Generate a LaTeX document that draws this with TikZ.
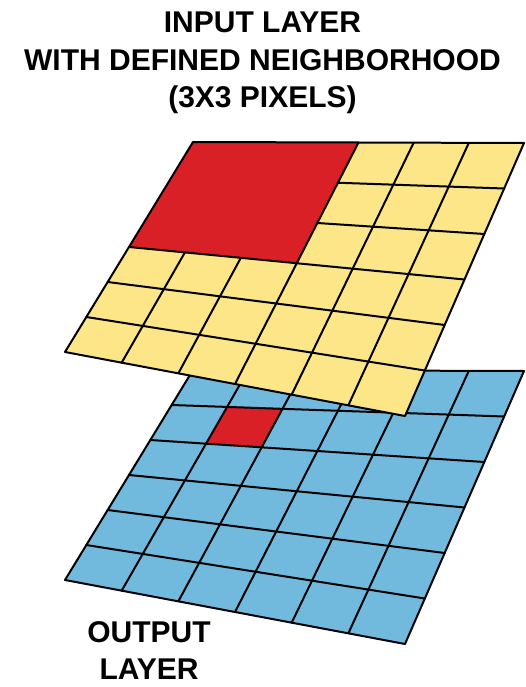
\documentclass[tikz,border=0pt]{standalone}
\usepackage{fontspec}
\setmainfont{Liberation Sans}
\usepackage{tikz}

\definecolor{cellred}{RGB}{216,32,38}
\definecolor{cellyellow}{RGB}{252,230,135}
\definecolor{cellblue}{RGB}{114,185,222}

\begin{document}
\begin{tikzpicture}[x=1pt, y=-1pt,
  gridline/.style={line width=2pt, line join=round, line cap=round},
  label/.style={anchor=base, font=\fontsize{30}{36}\selectfont\bfseries, inner sep=0pt}]

\useasboundingbox (0,0) rectangle (525,687);

% output layer (same sheet, moved down)
\begin{scope}[yshift=-228pt]
\fill[cellblue](193,142)--(524,143)--(405,416)--(65,352)--cycle;
\fill[cellred](227.08,178.92)--(282.5,180.83)--(261.67,219.33)--(206,215.67)--cycle;
\draw[gridline](171.67,177)--(504.17,188.5) (150.33,212)--(484.33,234) (129,247)--(464.5,279.5)
  (107.67,282)--(444.67,325) (86.33,317)--(424.83,370.5);
\draw[gridline](248.17,142.17)--(121.67,362.67) (303.33,142.33)--(178.33,373.33) (358.5,142.5)--(235,384)
  (413.67,142.67)--(291.67,394.67) (468.83,142.83)--(348.33,405.33);
\draw[gridline](193,142)--(524,143)--(405,416)--(65,352)--cycle;
\end{scope}

% input layer, no lines inside the 3x3 block
\fill[cellyellow](193,142)--(524,143)--(405,416)--(65,352)--cycle;
\fill[cellred](193,142)--(358.5,142.5)--(296.75,263.25)--(129,247)--cycle;
\draw[gridline](337.92,182.75)--(504.17,188.5) (317.33,223)--(484.33,234) (129,247)--(464.5,279.5)
  (107.67,282)--(444.67,325) (86.33,317)--(424.83,370.5);
\draw[gridline](184.92,252.42)--(121.67,362.67) (240.83,257.83)--(178.33,373.33) (358.5,142.5)--(235,384)
  (413.67,142.67)--(291.67,394.67) (468.83,142.83)--(348.33,405.33);
\draw[gridline](193,142)--(524,143)--(405,416)--(65,352)--cycle;

\node[label] (intitle) at (262.5,33){INPUT LAYER};
\node[label] (inneigh) at (262.5,71){WITH DEFINED NEIGHBORHOOD};
\node[label] (inpix) at (262.5,108){(3X3 PIXELS)};

\node[label] (outtitle) at (149,642){OUTPUT};
\node[label] (outlayer) at (149,679){LAYER};

\end{tikzpicture}
\end{document}
